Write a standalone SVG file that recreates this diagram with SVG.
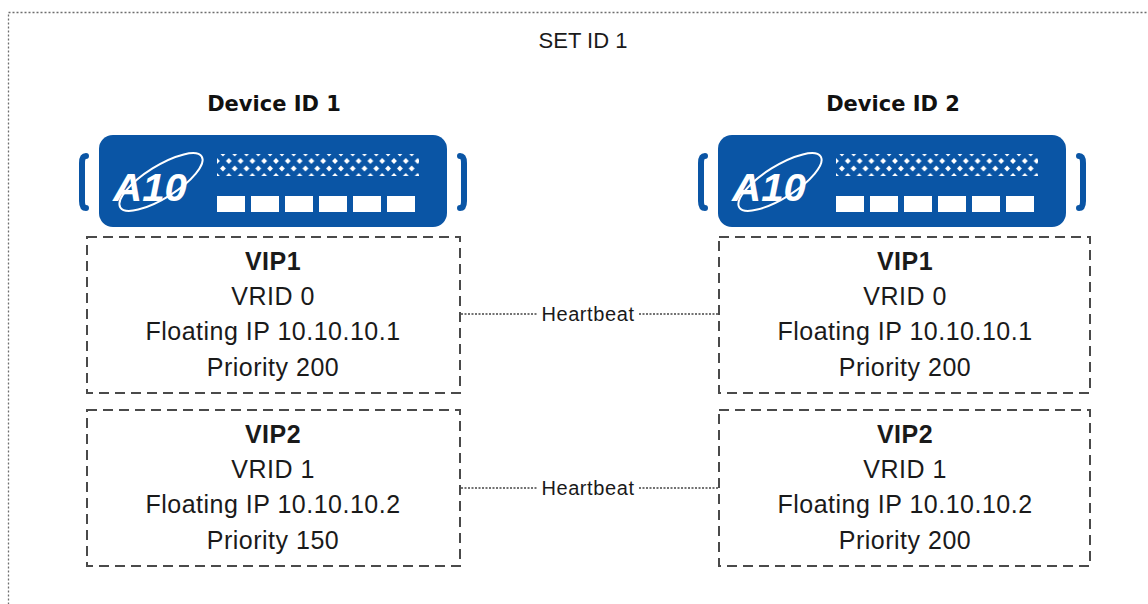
<svg xmlns="http://www.w3.org/2000/svg" width="1148" height="604" viewBox="0 0 1148 604">
<style>
.bg{fill:#ffffff}
.outer{fill:none;stroke:#6e6e6e;stroke-width:1.3;stroke-dasharray:2 2}
.box{fill:#ffffff;stroke:#4a4a4a;stroke-width:2;stroke-dasharray:10 6}
.hb{fill:none;stroke:#444444;stroke-width:1.3;stroke-dasharray:2 1.5}
.body{fill:#0A55A5}
.brk{fill:none;stroke:#0A55A5;stroke-width:6;stroke-linecap:round}
.port{fill:#ffffff}
.t{font-family:"Liberation Sans",Arial,sans-serif;font-size:25px;fill:#1a1a1a;text-anchor:middle;letter-spacing:0.5px}
.b{font-weight:bold}
.dev{font-family:"DejaVu Sans",Verdana,sans-serif;font-size:21px;font-weight:bold;fill:#111111;text-anchor:middle}
.set{font-family:"Liberation Sans",Arial,sans-serif;font-size:22px;fill:#1a1a1a;text-anchor:middle}
.hbt{font-family:"Liberation Sans",Arial,sans-serif;font-size:20px;fill:#1a1a1a;text-anchor:middle;letter-spacing:0.6px}
.logo{font-family:"Liberation Sans",Arial,sans-serif;font-size:38px;font-weight:bold;font-style:italic;fill:#ffffff}
.sw{fill:none;stroke:#ffffff;stroke-width:2}
</style>
<defs>
<pattern id="dia" x="0" y="0" width="11.8" height="15" patternUnits="userSpaceOnUse">
<path d="M5.9 0.6 L8.8 3.5 L5.9 6.4 L3 3.5 Z M0 8.1 L2.9 11 L0 13.9 Z M11.8 8.1 L8.9 11 L11.8 13.9 Z" fill="#ffffff"/>
</pattern>
<g id="device">
<path class="brk" d="M-13 21 Q-17 21 -17 28 L-17 66 Q-17 73 -13 73"/>
<path class="brk" d="M361 21 Q365 21 365 28 L365 66 Q365 73 361 73"/>
<rect class="body" x="0" y="0" width="348" height="92" rx="14"/>
<ellipse class="sw" cx="62" cy="47" rx="48" ry="16" transform="rotate(-32 62 47)"/>
<text class="logo" x="14" y="66" textLength="74" lengthAdjust="spacingAndGlyphs">A10</text>
<rect x="118" y="19" width="202" height="22" fill="url(#dia)"/>
<rect class="port" x="118" y="61" width="28" height="16"/>
<rect class="port" x="152" y="61" width="28" height="16"/>
<rect class="port" x="186" y="61" width="28" height="16"/>
<rect class="port" x="220" y="61" width="28" height="16"/>
<rect class="port" x="254" y="61" width="28" height="16"/>
<rect class="port" x="288" y="61" width="28" height="16"/>
</g>
</defs>
<rect class="bg" x="0" y="0" width="1148" height="604"/>
<rect class="outer" x="8.5" y="12.5" width="1160" height="620"/>
<text class="set" x="583" y="48">SET ID 1</text>

<g id="device1">
<text class="dev" x="274" y="111">Device ID 1</text>
<use href="#device" x="99" y="135"/>
</g>
<g id="device2">
<text class="dev" x="893" y="111">Device ID 2</text>
<use href="#device" x="718" y="135"/>
</g>

<g id="connectors">
<line class="hb" x1="461" y1="314" x2="537" y2="314"/>
<line class="hb" x1="639" y1="314" x2="719" y2="314"/>
<text class="hbt" x="588" y="321">Heartbeat</text>
<line class="hb" x1="461" y1="488" x2="537" y2="488"/>
<line class="hb" x1="639" y1="488" x2="719" y2="488"/>
<text class="hbt" x="588" y="495">Heartbeat</text>
</g>

<g id="d1-vip1">
<rect class="box" x="87" y="237" width="373" height="156"/>
<text class="t b" x="273" y="270">VIP1</text>
<text class="t" x="273" y="305">VRID 0</text>
<text class="t" x="273" y="340">Floating IP 10.10.10.1</text>
<text class="t" x="273" y="376">Priority 200</text>
</g>
<g id="d1-vip2">
<rect class="box" x="87" y="410" width="373" height="156"/>
<text class="t b" x="273" y="443">VIP2</text>
<text class="t" x="273" y="478">VRID 1</text>
<text class="t" x="273" y="513">Floating IP 10.10.10.2</text>
<text class="t" x="273" y="549">Priority 150</text>
</g>
<g id="d2-vip1">
<rect class="box" x="719" y="237" width="371" height="156"/>
<text class="t b" x="905" y="270">VIP1</text>
<text class="t" x="905" y="305">VRID 0</text>
<text class="t" x="905" y="340">Floating IP 10.10.10.1</text>
<text class="t" x="905" y="376">Priority 200</text>
</g>
<g id="d2-vip2">
<rect class="box" x="719" y="410" width="371" height="156"/>
<text class="t b" x="905" y="443">VIP2</text>
<text class="t" x="905" y="478">VRID 1</text>
<text class="t" x="905" y="513">Floating IP 10.10.10.2</text>
<text class="t" x="905" y="549">Priority 200</text>
</g>
</svg>
